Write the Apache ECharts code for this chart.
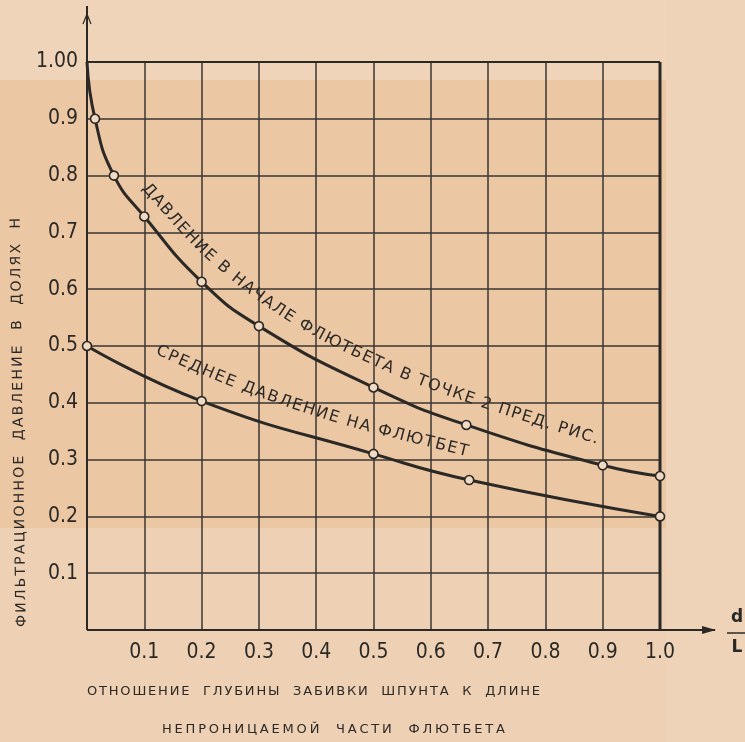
<!DOCTYPE html>
<html>
<head>
<meta charset="utf-8">
<script src="https://cdn.jsdelivr.net/npm/echarts@6/dist/echarts.min.js"></script>
<style>
html,body{margin:0;padding:0;background:#ecc7a4;}
#c{width:745px;height:742px;}
</style>
</head>
<body>
<div id="c"></div>
<script>
// ---- data ----
const xTickLabels = ['', '0.1', '0.2', '0.3', '0.4', '0.5', '0.6', '0.7', '0.8', '0.9', '1.0'];
const yTickLabels = ['', '0.1', '0.2', '0.3', '0.4', '0.5', '0.6', '0.7', '0.8', '0.9', '1.00'];

// pressure at start of apron (upper curve)
const upperX = [0, 0.014, 0.047, 0.1, 0.2, 0.3, 0.5, 0.662, 0.9, 1.0];
const upperY = [1.0, 0.9, 0.80, 0.728, 0.613, 0.535, 0.427, 0.361, 0.29, 0.271];
const upperMarked = [false, true, true, true, true, true, true, true, true, true];

// mean pressure on apron (lower curve)
const lowerX = [0, 0.2, 0.5, 0.667, 1.0];
const lowerY = [0.5, 0.403, 0.31, 0.264, 0.2];

const upperLabel = 'ДАВЛЕНИЕ В НАЧАЛЕ ФЛЮТБЕТА В ТОЧКЕ 2 ПРЕД. РИС.';
const lowerLabel = 'СРЕДНЕЕ ДАВЛЕНИЕ НА ФЛЮТБЕТ';
const yTitle = 'ФИЛЬТРАЦИОННОЕ  ДАВЛЕНИЕ  В  ДОЛЯХ  Н';
const xTitle1 = 'ОТНОШЕНИЕ  ГЛУБИНЫ  ЗАБИВКИ  ШПУНТА  К  ДЛИНЕ';
const xTitle2 = 'НЕПРОНИЦАЕМОЙ  ЧАСТИ  ФЛЮТБЕТА';

// baselines of the curved labels, in data coordinates
const upperLabelPathX = [0.101, 0.211, 0.354, 0.529, 0.695, 0.892];
const upperLabelPathY = [0.782, 0.662, 0.551, 0.461, 0.398, 0.335];
const lowerLabelPathX = [0.122, 0.262, 0.442, 0.665];
const lowerLabelPathY = [0.493, 0.433, 0.371, 0.313];

// ---- chart ----
const INK = '#2b2926';
const chart = echarts.init(document.getElementById('c'));

const upperData = upperX.map((x, i) => upperMarked[i] ? [x, upperY[i]] : {value: [x, upperY[i]], symbol: 'none'});
const lowerData = lowerX.map((x, i) => [x, lowerY[i]]);

const tickFont = {fontFamily: '"Liberation Sans Narrow", "DejaVu Sans Condensed", sans-serif', fontSize: 21, color: INK};

chart.setOption({
  backgroundColor: '#ecc7a4',
  animation: false,
  grid: {left: 87, right: 85, top: 62, bottom: 112, containLabel: false},
  xAxis: {
    type: 'value', min: 0, max: 1, interval: 0.1,
    axisLine: {show: false}, axisTick: {show: false},
    axisLabel: Object.assign({margin: 12, formatter: v => xTickLabels[Math.round(v * 10)]}, tickFont),
    splitLine: {show: true, lineStyle: {color: '#3a3632', width: 1.5}}
  },
  yAxis: {
    type: 'value', min: 0, max: 1, interval: 0.1,
    axisLine: {show: false}, axisTick: {show: false},
    axisLabel: Object.assign({margin: 9, formatter: v => yTickLabels[Math.round(v * 10)]}, tickFont),
    splitLine: {show: true, lineStyle: {color: '#3a3632', width: 1.5}}
  },
  series: [
    {
      type: 'line', data: upperData, smooth: 0.5,
      symbol: 'circle', symbolSize: 9, showAllSymbol: true, z: 5,
      lineStyle: {color: INK, width: 3},
      itemStyle: {color: '#f1dac3', borderColor: INK, borderWidth: 1.6}
    },
    {
      type: 'line', data: lowerData, smooth: 0.5,
      symbol: 'circle', symbolSize: 9, showAllSymbol: true, z: 5,
      lineStyle: {color: INK, width: 3},
      itemStyle: {color: '#f1dac3', borderColor: INK, borderWidth: 1.6}
    }
  ]
});

// ---- text along paths ----
const mctx = document.createElement('canvas').getContext('2d');

function sampleSpline(pts) {
  if (pts.length < 3) return pts.slice();
  const out = [];
  for (let i = 0; i < pts.length - 1; i++) {
    const p0 = pts[Math.max(i - 1, 0)], p1 = pts[i], p2 = pts[i + 1], p3 = pts[Math.min(i + 2, pts.length - 1)];
    for (let k = 0; k < 20; k++) {
      const t = k / 20, t2 = t * t, t3 = t2 * t;
      const f = (a, b, c, d) => 0.5 * ((2 * b) + (-a + c) * t + (2 * a - 5 * b + 4 * c - d) * t2 + (-a + 3 * b - 3 * c + d) * t3);
      out.push([f(p0[0], p1[0], p2[0], p3[0]), f(p0[1], p1[1], p2[1], p3[1])]);
    }
  }
  out.push(pts[pts.length - 1]);
  return out;
}

function textOnPath(str, pts, font, color) {
  const P = sampleSpline(pts);
  const lens = []; let L = 0;
  for (let i = 0; i < P.length - 1; i++) {
    const l = Math.hypot(P[i + 1][0] - P[i][0], P[i + 1][1] - P[i][1]);
    lens.push(l); L += l;
  }
  mctx.font = font;
  const chars = Array.from(str);
  const ws = chars.map(c => mctx.measureText(c).width);
  const W = ws.reduce((a, b) => a + b, 0);
  const s = chars.length > 1 ? (L - W) / (chars.length - 1) : 0;
  function at(d) {
    let acc = 0;
    for (let i = 0; i < lens.length; i++) {
      if (acc + lens[i] >= d || i === lens.length - 1) {
        const t = lens[i] ? Math.min(Math.max((d - acc) / lens[i], 0), 1) : 0;
        const a = Math.atan2(P[i + 1][1] - P[i][1], P[i + 1][0] - P[i][0]);
        return [P[i][0] + (P[i + 1][0] - P[i][0]) * t, P[i][1] + (P[i + 1][1] - P[i][1]) * t, a];
      }
      acc += lens[i];
    }
  }
  const els = [];
  let d = 0;
  chars.forEach((ch, i) => {
    const c = d + ws[i] / 2;
    d += ws[i] + s;
    if (ch === ' ') return;
    const [x, y, a] = at(c);
    els.push({
      type: 'text', x: x, y: y, rotation: -a, silent: true, z: 10,
      style: {text: ch, font: font, fill: color, align: 'center', verticalAlign: 'middle', textAlign: 'center', textVerticalAlign: 'middle'}
    });
  });
  return els;
}

const px = p => chart.convertToPixel({gridIndex: 0}, p);
const o = px([0, 0]), e = px([1, 1]);
const LABEL_FONT = '16px "DejaVu Sans", sans-serif';
const YTITLE_FONT = '14px "DejaVu Sans", sans-serif';
const XTITLE_FONT = '13px "DejaVu Sans", sans-serif';

let els = [];
// paper strips of the scan
els.push({type: 'rect', shape: {x: 0, y: 0, width: 745, height: e[1] + 18}, style: {fill: '#efd4b9'}, z: -10, silent: true});
els.push({type: 'rect', shape: {x: 0, y: o[1] - 102, width: 745, height: 745}, style: {fill: '#eed1b4'}, z: -10, silent: true});
els.push({type: 'rect', shape: {x: e[0] + 6, y: 0, width: 120, height: 745}, style: {fill: '#efd3b8'}, z: -10, silent: true});

// axes with arrows
els.push({type: 'line', shape: {x1: o[0], y1: o[1], x2: o[0], y2: 6}, style: {stroke: INK, lineWidth: 2}, z: 4, silent: true});
els.push({type: 'polyline', shape: {points: [[o[0] - 4, 24], [o[0], 14], [o[0] + 4, 24]]}, style: {stroke: INK, lineWidth: 1.2, fill: null}, z: 4, silent: true});
els.push({type: 'line', shape: {x1: o[0], y1: o[1], x2: 715, y2: o[1]}, style: {stroke: INK, lineWidth: 2}, z: 4, silent: true});
els.push({type: 'polygon', shape: {points: [[716, o[1]], [702, o[1] - 4], [702, o[1] + 4]]}, style: {fill: INK}, z: 4, silent: true});
els.push({type: 'line', shape: {x1: e[0], y1: e[1], x2: e[0], y2: o[1]}, style: {stroke: INK, lineWidth: 3}, z: 4, silent: true});
els.push({type: 'line', shape: {x1: o[0], y1: e[1], x2: e[0], y2: e[1]}, style: {stroke: INK, lineWidth: 2}, z: 4, silent: true});

// d / L
els.push({type: 'text', x: 737, y: 618, silent: true, z: 10, style: {text: 'd', font: 'bold 17px "DejaVu Sans", sans-serif', fill: INK, align: 'center', verticalAlign: 'middle', textAlign: 'center', textVerticalAlign: 'middle'}});
els.push({type: 'line', shape: {x1: 727, y1: 633, x2: 745, y2: 633}, style: {stroke: INK, lineWidth: 1.5}, silent: true, z: 10});
els.push({type: 'text', x: 737, y: 648, silent: true, z: 10, style: {text: 'L', font: 'bold 17px "DejaVu Sans", sans-serif', fill: INK, align: 'center', verticalAlign: 'middle', textAlign: 'center', textVerticalAlign: 'middle'}});

// curve labels
els = els.concat(textOnPath(upperLabel, upperLabelPathX.map((x, i) => px([x, upperLabelPathY[i]])), LABEL_FONT, INK));
els = els.concat(textOnPath(lowerLabel, lowerLabelPathX.map((x, i) => px([x, lowerLabelPathY[i]])), LABEL_FONT, INK));
// axis titles
els = els.concat(textOnPath(yTitle, [[22, 627], [16, 218]], YTITLE_FONT, INK));
els = els.concat(textOnPath(xTitle1, [[87, 692], [540, 692]], XTITLE_FONT, INK));
els = els.concat(textOnPath(xTitle2, [[162, 730], [505, 730]], XTITLE_FONT, INK));

chart.setOption({graphic: {elements: els}});
</script>
</body>
</html>
